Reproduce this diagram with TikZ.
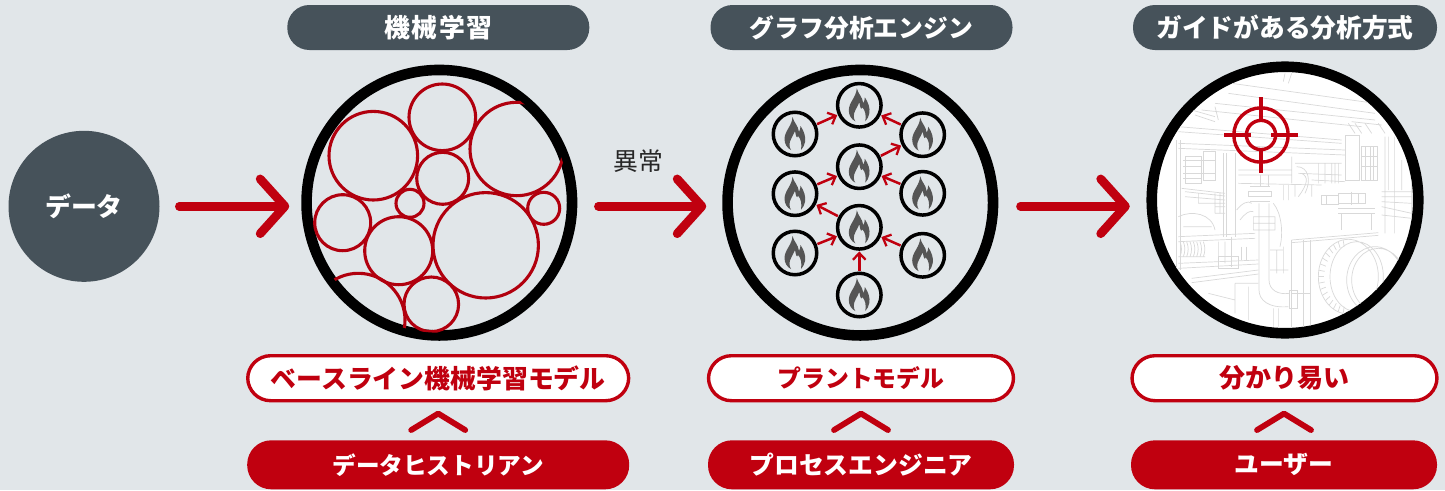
\documentclass[tikz,border=0pt]{standalone}
\usepackage{fontspec}
\setmainfont{Noto Sans CJK JP}
\usetikzlibrary{arrows.meta,calc,shapes.misc}
\definecolor{bgc}{HTML}{E1E6E9}
\definecolor{darkc}{HTML}{46525A}
\definecolor{redc}{HTML}{C0000F}
\definecolor{artc}{HTML}{D9D9D9}
\definecolor{flamec}{HTML}{555555}
\def\px{0.75pt}
\tikzset{
 every node/.style={inner sep=0pt},
 jptext/.style={font=\fontsize{18.6}{22}\selectfont\bfseries},
 headpill/.style={rectangle,rounded corners=22*\px,fill=darkc,text=white,jptext,minimum height=45*\px},
 whitepill/.style={rectangle,rounded corners=23*\px,fill=white,draw=redc,line width=3.4*\px,text=redc,jptext,minimum height=45*\px},
 redpill/.style={rectangle,rounded corners=24*\px,fill=redc,text=white,jptext,minimum height=49*\px},
 ring/.style={circle,draw=black,line width=10.6*\px,minimum size=265.5*\px},
 bigarrow/.style={draw=redc,line width=8.4*\px,line cap=round,-{Straight Barb[length=18.5pt,width=41pt,round,line width=6.6pt]}},
 flamenode/.style={circle,draw=black,line width=3.5*\px,minimum size=43.5*\px},
 smallarrow/.style={draw=redc,line width=2.5*\px,-{Straight Barb[length=5pt,width=9.5pt,line width=1.7pt]},shorten <=0.5pt,shorten >=0.5pt},
 mlcircle/.style={draw=redc!92!black,line width=3.1*\px},
 chev/.style={draw=redc,line width=5.8*\px,line cap=round,line join=round},
 art/.style={draw=artc,line width=0.7*\px},
 flame/.pic={
  \fill[flamec] (-2.5,-17) .. controls (-1,-11) and (3,-9) .. (4,-2)
    .. controls (5,-4) and (5.5,-6) .. (5.5,-8)
    .. controls (9,-3) and (11,3) .. (10,8)
    .. controls (9.5,11) and (8,14) .. (6,16)
    .. controls (7,10) and (6,5) .. (3,2)
    .. controls (2,5) and (1,3) .. (0,-3)
    .. controls (-2,2) and (-6,7) .. (-5.5,11)
    .. controls (-5.3,13) and (-5,15) .. (-4,16)
    .. controls (-8,14) and (-10.5,10) .. (-10.5,5)
    .. controls (-10.5,-3) and (-3,-8) .. (-2.5,-17) -- cycle;
 },
}
\begin{document}
\begin{tikzpicture}[x=0.75pt,y=-0.75pt]
\useasboundingbox (0,0) rectangle (1445,490);
\fill[bgc] (0,0) rectangle (1445,490);

% header pills
\node[headpill,minimum width=302*\px] (h1) at (438.3,27.5) {\fontsize{19.4}{22}\selectfont\addfontfeature{LetterSpace=6}機械学習};
\node[headpill,minimum width=302*\px] (h2) at (861.5,27.5) {グラフ分析エンジン};
\node[headpill,minimum width=304*\px] (h3) at (1285,27.5) {\fontsize{19.3}{22}\selectfont ガイドがある分析方式};

% data
\node[circle,fill=darkc,text=white,jptext,minimum size=151*\px] (data) at (84,206.3) {\fontsize{19.4}{22}\selectfont データ};

% rings
\node[ring] (ml) at (439.3,202.7) {};
\node[ring] (graph) at (860.3,202.7) {};
\node[ring,fill=white,minimum size=266.5*\px] (plant) at (1285,200) {};

% machine learning circles
\begin{scope}
\clip (439.3,202.7) circle[radius=130];
\foreach \cx/\cy/\r in {373.3/155.7/44.3,442.3/117.3/33.3,516.7/149/46.7,442.7/178.3/26,410/203.3/14,342.7/222.7/28,398.7/250.7/34,485.7/245.3/52.7,543.7/208.3/16,431.3/304.3/27.3,358.3/320/46.7}
  \draw[mlcircle] (\cx,\cy) circle[radius=\r];
\end{scope}

% graph nodes
\node[flamenode] (f1) at (859.3,105.3) {};
\node[flamenode] (f2) at (795,134) {};
\node[flamenode] (f3) at (922.7,134.7) {};
\node[flamenode] (f4) at (859.3,166.7) {};
\node[flamenode] (f5) at (795,193.7) {};
\node[flamenode] (f6) at (922.7,193.3) {};
\node[flamenode] (f7) at (859.3,227.3) {};
\node[flamenode] (f8) at (795,253) {};
\node[flamenode] (f9) at (922.7,255.3) {};
\node[flamenode] (f10) at (859.3,295) {};
\foreach \n in {f1,f2,f3,f4,f5,f6,f7,f8,f9,f10} \pic at (\n) {flame};
\draw[smallarrow] (f2) -- (f1);
\draw[smallarrow] (f3) -- (f1);
\draw[smallarrow] (f4) -- (f3);
\draw[smallarrow] (f5) -- (f4);
\draw[smallarrow] (f6) -- (f4);
\draw[smallarrow] (f7) -- (f5);
\draw[smallarrow] (f8) -- (f7);
\draw[smallarrow] (f9) -- (f7);
\draw[smallarrow] (f10) -- (f7);

% plant line art (zoom coordinates: 3 units to the pixel)
\begin{scope}
\clip (1285,200) circle[radius=128];
\begin{scope}[shift={(1135,60)},x=0.25pt,y=-0.25pt]
\draw[art] (290,70)--(720,130) (280,100)--(720,160) (200,150)--(680,200) (240,130)--(720,180);
\draw[art] (130,200)--(620,240) (130,215)--(620,250) (130,250)--(630,270) (130,265)--(630,285);
\draw[art] (450,40)--(445,65) (470,40)--(460,70) (170,150)--(240,170) (180,165)--(240,185) (240,140)--(250,180);
\draw[art] (125,240)--(125,630) (135,240)--(135,630) (275,280)--(275,530) (300,280)--(300,530) (290,530)--(290,620);
\draw[art] (150,290) rectangle (200,370) (145,300)--(240,300) (145,340)--(240,340) (205,275) rectangle (240,360) (145,320)--(200,320) (145,355)--(200,355) (265,280)--(265,530);
\draw[art] (140,385)--(270,400) (150,410)--(270,420) (190,430)--(270,430) (150,395)--(270,408) (190,400)--(190,430) (240,400)--(240,460) (255,400)--(255,460);
\draw[art] (630,225) rectangle (672,360) (680,260) rectangle (728,360) (680,290)--(728,290) (680,320)--(728,320) (690,260)--(690,360) (705,260)--(705,360) (716,260)--(716,360);
\draw[art] (750,230)--(750,520) (778,230)--(778,520) (830,300)--(830,520) (740,395)--(830,395) (740,410)--(830,410) (740,440)--(830,460) (740,465)--(830,475) (740,425)--(830,430) (760,230)--(760,390) (800,300)--(800,390);
\draw[art] (640,190)--(660,220) (660,190)--(680,220) (690,190)--(710,220) (730,190)--(750,220) (650,185)--(740,195);
\draw[art] (310,330)--(470,330) (310,345)--(470,345) (310,370)--(560,375) (480,310)--(620,310) (490,340)--(620,345) (550,310)--(550,370) (570,310)--(570,370) (590,310)--(590,370) (470,290)--(470,370) (600,310)--(600,370) (610,310)--(610,370) (530,360)--(630,365);
\draw[art] (485,320) .. controls (520,320) and (530,360) .. (510,400) (500,340) .. controls (520,350) and (520,370) .. (490,410) (445,375)--(445,420) (460,375)--(460,420) (480,375)--(480,410) (530,375)--(530,410);
\draw[art] (560,405) rectangle (610,432) (610,400) rectangle (690,430) (650,395)--(650,435) (610,445)--(720,445) (610,460)--(720,460) (620,460)--(620,510) (710,460)--(710,510) (575,405)--(575,432) (670,400)--(670,430);
\draw[art] (340,395)--(410,395) (340,410)--(410,410) (345,425)--(405,425) (345,380)--(405,380) (375,345)--(375,380) (400,345)--(400,380) (340,395)--(340,410) (410,395)--(410,410);
\draw[art] (372,430)--(372,690) .. controls (372,720) and (400,745) .. (460,740) (402,430)--(402,660) .. controls (402,690) and (430,705) .. (462,700) (355,470)--(420,470) (355,490)--(420,490) (355,510)--(420,510) (355,470)--(355,510) (420,470)--(420,510);
\draw[art] (305,450) .. controls (320,430) and (340,420) .. (350,430) (315,480) .. controls (330,460) and (345,450) .. (355,455);
\draw[art] (415,430) .. controls (440,460) and (445,520) .. (435,560) (470,540)--(730,518) (470,548)--(730,526) (405,570)--(445,570) (405,630)--(460,630) (425,570)--(425,640) (445,560)--(445,640);
\draw[art] (470,540)--(470,800) (505,540)--(505,800) (525,540)--(525,800) (462,690) rectangle (488,745) (470,700)--(525,700);
\draw[art] (130,530)--(360,520) (130,545)--(360,535) (130,610)--(370,600) (130,625)--(370,612) (170,655)--(370,630) (170,668)--(370,642) (130,590)--(210,590) (250,545)--(250,610) (270,545)--(270,610);
\draw[art] (130,470) .. controls (170,450) and (230,460) .. (240,510) (145,500)--(230,500) (240,440)--(270,440) (240,460)--(270,460);
\foreach \hx in {135,145,...,205} \draw[art] (\hx,545) .. controls (\hx+6,560) and (\hx+6,575) .. (\hx,590);
\draw[art] (250,590) rectangle (310,625) (320,560)--(320,600) (335,560)--(335,600);
\draw[art] (300,670)--(300,760) (340,680)--(340,780) (300,670)--(370,670) (220,700)--(300,720) (240,750) .. controls (270,760) and (290,780) .. (295,800) (415,745)--(415,800) (430,745)--(430,800);
\draw[art] (640,650) ellipse[x radius=90,y radius=112] (665,650) ellipse[x radius=80,y radius=105] (720,660) ellipse[x radius=85,y radius=100] (730,660) ellipse[x radius=80,y radius=95];
\foreach \a in {100,110,...,260} \draw[art] ($(640,650)+(\a:90 and 112)$) -- ($(640,650)+(\a:72 and 92)$);
\end{scope}
\end{scope}

% target
\begin{scope}[draw=redc]
\draw[line width=3.4*\px] (1261,135) circle[radius=27.2];
\draw[line width=3.4*\px] (1261,135) circle[radius=14.6];
\draw[line width=3.2*\px] (1261,97.3) -- (1261,122) (1261,148) -- (1261,173) (1224,135) -- (1251,135) (1271,135) -- (1297.5,135);
\end{scope}

% main arrows
\draw[bigarrow,shorten <=14.6pt,shorten >=9pt] (data.east) -- (data.east -| ml.west);
\draw[bigarrow,shorten <=15.7pt,shorten >=12pt] (ml.east |- data.east) -- (data.east -| graph.west);
\draw[bigarrow,shorten <=16.5pt,shorten >=12.5pt] (graph.east |- data.east) -- (data.east -| plant.west);
\node[font=\fontsize{18.6}{22}\selectfont,text=black!85] (ab) at (638,161) {異常};

% lower pills
\node[whitepill,minimum width=381*\px] (w1) at (438.2,378.2) {\fontsize{19.4}{22}\selectfont ベースライン機械学習モデル};
\node[whitepill,minimum width=305*\px] (w2) at (861,378.2) {\fontsize{17.9}{22}\selectfont プラントモデル};
\node[whitepill,minimum width=305*\px] (w3) at (1284.5,378.2) {\fontsize{19.5}{22}\selectfont 分かり易い};
\node[redpill,minimum width=382*\px] (r1) at (438.2,464.8) {\fontsize{17.7}{22}\selectfont データヒストリアン};
\node[redpill,minimum width=306*\px] (r2) at (861,464.8) {プロセスエンジニア};
\node[redpill,minimum width=306*\px] (r3) at (1284,464.8) {ユーザー};

% chevrons
\foreach \n in {1,2,3}
  \draw[chev] ($(r\n.north)+(-27,-10)$) -- ($(r\n.north)+(0,-26.5)$) -- ($(r\n.north)+(27,-10)$);
\end{tikzpicture}
\end{document}
